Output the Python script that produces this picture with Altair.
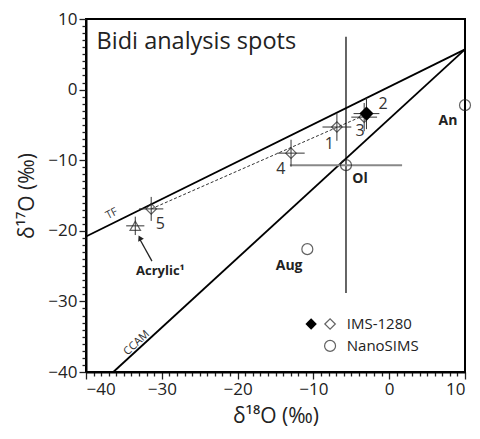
import altair as alt
import pandas as pd

FONT = "Open Sans"

# Reference lines (segments): TF and CCAM
line_names = ["TF", "CCAM"]
line_x1 = [-40.0, -36.4]
line_y1 = [-20.8, -40.0]
line_x2 = [10.0, 10.0]
line_y2 = [5.7, 5.7]

# dashed trend line through spots
dash_x1, dash_y1, dash_x2, dash_y2 = [-31.4], [-16.9], [-3.2], [-3.6]

# IMS-1280 spots
spot_ids = ["1", "2", "3", "4", "5"]
spot_x = [-6.9, -3.0, -3.3, -12.95, -31.4]
spot_y = [-5.3, -3.4, -3.9, -9.0, -16.9]
spot_xerr = [1.9, 1.7, 1.7, 1.8, 1.6]
spot_yerr = [1.95, 2.2, 2.0, 1.9, 1.7]
spot_filled = [False, True, False, False, False]
spot_lab_x = [-7.9, -0.8, -3.85, -14.3, -30.2]
spot_lab_y = [-7.7, -2.0, -5.9, -11.2, -19.0]

# Acrylic standard
acr_x, acr_y, acr_xerr, acr_yerr = [-33.5], [-19.3], [1.2], [1.3]

# NanoSIMS minerals
min_names = ["Ol", "An", "Aug"]
min_x = [-5.7, 10.0, -10.8]
min_y = [-10.7, -2.2, -22.6]
min_lab_x = [-3.85, 7.76, -13.2]
min_lab_y = [-12.7, -4.4, -25.0]

# Ol error bars
ol_v = [-5.7, 7.5, -28.8]      # x, ytop, ybottom
ol_h = [-13.1, 1.7, -10.7]     # xleft, xright, y

DOMAIN = [-40, 10]
all_ticks = list(range(-40, 11))          # major every 10, minor every 1
LABEL_EXPR = "abs(datum.value % 10) < 0.001 ? datum.label : ''"
TICK_SIZE = {"condition": {"test": "abs(datum.value % 10) < 0.001", "value": 7}, "value": 4}

W, H = 379, 353

X = alt.X("x:Q", scale=alt.Scale(domain=DOMAIN, nice=False, zero=False),
          axis=alt.Axis(values=all_ticks, tickCount=200, format="d", tickSize=TICK_SIZE,
                        labelExpr=LABEL_EXPR, labelOverlap=False, title="δ¹⁸O (‰)", grid=False,
                        labelPadding=2, titlePadding=8))
Y = alt.Y("y:Q", scale=alt.Scale(domain=DOMAIN, nice=False, zero=False),
          axis=alt.Axis(values=all_ticks, tickCount=200, format="d", tickSize=TICK_SIZE,
                        labelExpr=LABEL_EXPR, labelOverlap=False, title="δ¹⁷O (‰)", grid=False,
                        labelPadding=2, titlePadding=10))

seg = pd.DataFrame({"x": line_x1, "y": line_y1, "x2": line_x2, "y2": line_y2, "name": line_names})
lines = alt.Chart(seg).mark_rule(color="black", strokeWidth=1.8).encode(
    x=X, y=Y, x2="x2:Q", y2="y2:Q")

dash = alt.Chart(pd.DataFrame({"x": dash_x1, "y": dash_y1, "x2": dash_x2, "y2": dash_y2})).mark_rule(
    color="#333", strokeWidth=1, strokeDash=[3, 2]).encode(x="x:Q", y="y:Q", x2="x2:Q", y2="y2:Q")

spots = pd.DataFrame({"x": spot_x, "y": spot_y, "xe": spot_xerr, "ye": spot_yerr,
                      "filled": spot_filled, "id": spot_ids})
spots["xl"] = spots.x - spots.xe
spots["xr"] = spots.x + spots.xe
spots["yb"] = spots.y - spots.ye
spots["yt"] = spots.y + spots.ye

acr = pd.DataFrame({"x": acr_x, "y": acr_y})
acr["xl"] = acr.x - acr_xerr[0]
acr["xr"] = acr.x + acr_xerr[0]
acr["yb"] = acr.y - acr_yerr[0]
acr["yt"] = acr.y + acr_yerr[0]
errs = pd.concat([spots[["x", "y", "xl", "xr", "yb", "yt"]], acr], ignore_index=True)

eh = alt.Chart(errs).mark_rule(color="#333", strokeWidth=1).encode(x="xl:Q", x2="xr:Q", y="y:Q")
ev = alt.Chart(errs).mark_rule(color="#333", strokeWidth=1).encode(x="x:Q", y="yb:Q", y2="yt:Q")

open_sp = alt.Chart(spots[~spots.filled]).mark_point(shape="diamond", size=110, filled=False,
                                                      color="#222", strokeWidth=1.2).encode(x="x:Q", y="y:Q")
fill_sp = alt.Chart(spots[spots.filled]).mark_point(shape="diamond", size=200, filled=True,
                                                     color="black", opacity=1).encode(x="x:Q", y="y:Q")
acr_pt = alt.Chart(acr).mark_point(shape="triangle-up", size=110, filled=False,
                                   color="#222", strokeWidth=1.2).encode(x="x:Q", y="y:Q")

spot_labs = alt.Chart(pd.DataFrame({"x": spot_lab_x, "y": spot_lab_y, "t": spot_ids})).mark_text(
    font=FONT, fontSize=16, color="#333").encode(x="x:Q", y="y:Q", text="t:N")

# Ol error bars
olv = alt.Chart(pd.DataFrame({"x": [ol_v[0]], "y": [ol_v[1]], "y2": [ol_v[2]]})).mark_rule(
    color="black", strokeWidth=1.2).encode(x="x:Q", y="y:Q", y2="y2:Q")
olh = alt.Chart(pd.DataFrame({"x": [ol_h[0]], "x2": [ol_h[1]], "y": [ol_h[2]]})).mark_rule(
    color="#888", strokeWidth=2).encode(x="x:Q", x2="x2:Q", y="y:Q")

mins = pd.DataFrame({"x": min_x, "y": min_y, "name": min_names})
min_pts = alt.Chart(mins).mark_point(shape="circle", size=120, filled=False, color="#222",
                                     strokeWidth=1.2).encode(x="x:Q", y="y:Q")
min_labs = alt.Chart(pd.DataFrame({"x": min_lab_x, "y": min_lab_y, "t": min_names})).mark_text(
    font=FONT, fontSize=14, fontWeight="bold", color="#222").encode(x="x:Q", y="y:Q", text="t:N")

# Acrylic label and arrow
acr_lab = alt.Chart(pd.DataFrame({"x": [-30.2], "y": [-25.7], "t": ["Acrylic¹"]})).mark_text(
    font=FONT, fontSize=13, fontWeight="bold", color="#222").encode(x="x:Q", y="y:Q", text="t:N")
arrow = alt.Chart(pd.DataFrame({"x": [-31.3], "y": [-24.3], "x2": [-32.9], "y2": [-21.2]})).mark_rule(
    color="#222", strokeWidth=1.3).encode(x="x:Q", y="y:Q", x2="x2:Q", y2="y2:Q")
head = alt.Chart(pd.DataFrame({"x": [-32.9], "y": [-21.0]})).mark_point(
    shape="triangle-up", size=40, filled=True, color="#222", angle=333, opacity=1).encode(x="x:Q", y="y:Q")

# line labels
tf_lab = alt.Chart(pd.DataFrame({"x": [-36.6], "y": [-17.6], "t": ["TF"]})).mark_text(
    font=FONT, fontSize=11, angle=333, color="#333").encode(x="x:Q", y="y:Q", text="t:N")
cc_lab = alt.Chart(pd.DataFrame({"x": [-33.3], "y": [-35.9], "t": ["CCAM"]})).mark_text(
    font=FONT, fontSize=11, angle=317, color="#333").encode(x="x:Q", y="y:Q", text="t:N")

title = alt.Chart(pd.DataFrame({"x": [-38.6], "y": [5.7], "t": ["Bidi analysis spots"]})).mark_text(
    font=FONT, fontSize=23.5, align="left", baseline="alphabetic", color="#222").encode(
    x="x:Q", y="y:Q", text="t:N")

# legend
leg_pts = pd.DataFrame({"x": [-10.3, -7.8, -7.8], "y": [-33.2, -33.2, -36.3],
                        "shape": ["diamond", "diamond", "circle"], "f": [True, False, False]})
leg_f = alt.Chart(leg_pts[leg_pts.f]).mark_point(shape="diamond", size=130, filled=True,
                                                  color="black", opacity=1).encode(x="x:Q", y="y:Q")
leg_o = alt.Chart(leg_pts[(~leg_pts.f) & (leg_pts["shape"] == "diamond")]).mark_point(
    shape="diamond", size=110, filled=False, color="#222", strokeWidth=1.2).encode(x="x:Q", y="y:Q")
leg_c = alt.Chart(leg_pts[leg_pts["shape"] == "circle"]).mark_point(
    shape="circle", size=120, filled=False, color="#222", strokeWidth=1.2).encode(x="x:Q", y="y:Q")
leg_t = alt.Chart(pd.DataFrame({"x": [-5.6, -5.6], "y": [-33.2, -36.3],
                                "t": ["IMS-1280", "NanoSIMS"]})).mark_text(
    font=FONT, fontSize=15, align="left", color="#222").encode(x="x:Q", y="y:Q", text="t:N")

chart = alt.layer(lines, dash, olv, olh, eh, ev, open_sp, fill_sp, acr_pt, spot_labs,
                  min_pts, min_labs, acr_lab, arrow, head, tf_lab, cc_lab, title,
                  leg_f, leg_o, leg_c, leg_t).properties(
    width=W, height=H,
    autosize=alt.AutoSizeParams(type="none"),
    padding={"left": 78, "top": 11, "right": 7, "bottom": 59},
).configure_view(stroke="black", strokeWidth=2).configure_axis(
    domainColor="black", domainWidth=2, tickColor="#222", tickWidth=1.3,
    labelFont=FONT, labelFontSize=17, labelColor="#222",
    titleFont=FONT, titleFontSize=21, titleColor="#222", titleFontWeight="normal",
)

chart.save("out.html", embed_options={"renderer": "svg", "actions": False})
